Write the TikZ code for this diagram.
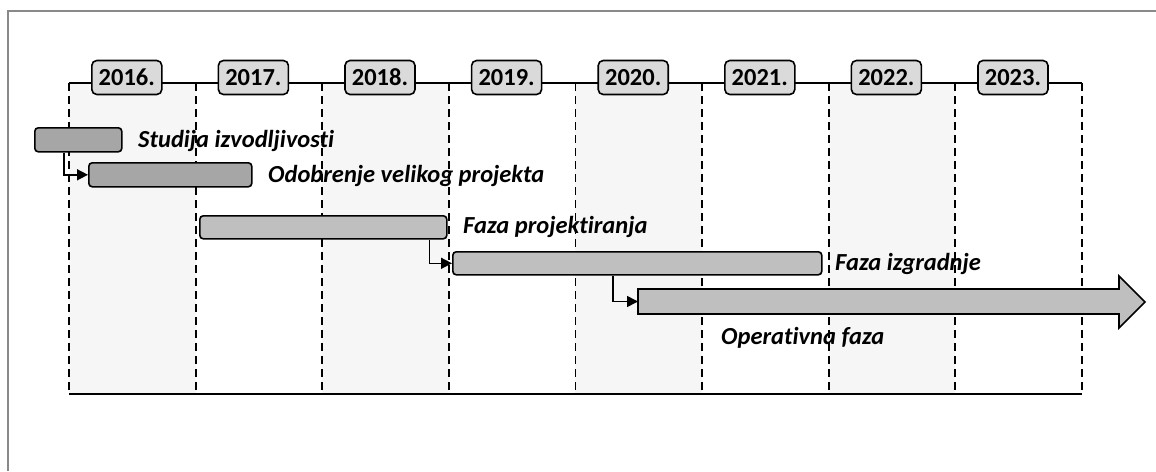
\documentclass[tikz,border=0pt]{standalone}
\usepackage{fontspec}
\setmainfont{Carlito}[Ligatures=NoCommon]
\usetikzlibrary{arrows.meta, positioning}

\definecolor{framegray}{HTML}{898989}
\definecolor{colshade}{HTML}{F6F6F6}
\definecolor{yearfill}{HTML}{DADADA}
\definecolor{bardark}{HTML}{A6A6A6}
\definecolor{barlight}{HTML}{BFBFBF}

\tikzset{
  yearbox/.style={draw, line width=1.6pt, rounded corners=5pt, fill=yearfill,
    minimum width=70pt, minimum height=34pt, inner sep=0pt, font=\fontsize{24.5}{26}\selectfont\bfseries},
  bar/.style={draw, line width=1.6pt, rounded corners=3.5pt, inner sep=0pt, anchor=north west},
  phase/.style={anchor=base west, inner sep=0pt, font=\fontsize{24.5}{26}\selectfont\bfseries\itshape},
  conn/.style={line width=1.6pt, -{Triangle[length=11pt,width=11pt]}}
}

\begin{document}
\begin{tikzpicture}[x=1pt, y=-1pt]

            \useasboundingbox (0,0) rectangle (1156,471);

            % outer frame
            \draw[framegray, line width=2.2pt] (8,471) -- (8,11) -- (1160,11);

            % year columns
            \foreach \i in {0,2,4,6}
                \fill[colshade] (69+126.6*\i,83) rectangle ++(126.6,311);
            \foreach \i in {0,...,8}
                \draw[line width=1.8pt, dash pattern=on 8pt off 5pt] (69+126.6*\i,83) -- ++(0,311);
            \draw[line width=2pt] (69,394) -- (1082,394);
            \draw[line width=1.8pt] (69,83) -- (1082,83);

            % year labels
            \foreach \yr [count=\i from 0] in {2016,...,2023}
                \node[yearbox] (y\yr) at (126.8+126.6*\i,77.5) {\yr.};

            % phase bars
            \node[bar, fill=bardark, minimum width=87pt, minimum height=24pt] (studija) at (34,127) {};
            \node[bar, fill=bardark, minimum width=163pt, minimum height=24pt] (odobrenje) at (88,162) {};
            \node[bar, fill=barlight, minimum width=247pt, minimum height=23pt] (projekt) at (199,215) {};
            \node[bar, fill=barlight, minimum width=369pt, minimum height=23pt] (izgradnja) at (452,251) {};

            % operative phase arrow
            \draw[line width=1.6pt, fill=barlight, line join=miter]
                (638,289) -- (1119,289) -- (1119,276) -- (1145,302)
                -- (1119,328) -- (1119,314) -- (638,314) -- cycle;
            \coordinate (operativna) at (638,301.5);

            % links between phases
            \draw[conn] ([xshift=30pt]studija.south west) |- (odobrenje.west);
            \draw[conn] ([xshift=-18pt]projekt.south east) |- (izgradnja.west);
            \draw[conn] ([xshift=161pt]izgradnja.south west) |- (operativna);

            % phase names
            \node[phase] (tstudija) at (138,147) {Studija izvodljivosti};
            \node[phase] (todobrenje) at (268,182) {Odobrenje velikog projekta};
            \node[phase] (tprojekt) at (463,233) {Faza projektiranja};
            \node[phase] (tizgradnja) at (835,270) {Faza izgradnje};
            \node[phase] (toperativna) at (721,344) {Operativna faza};

\end{tikzpicture}
\end{document}
